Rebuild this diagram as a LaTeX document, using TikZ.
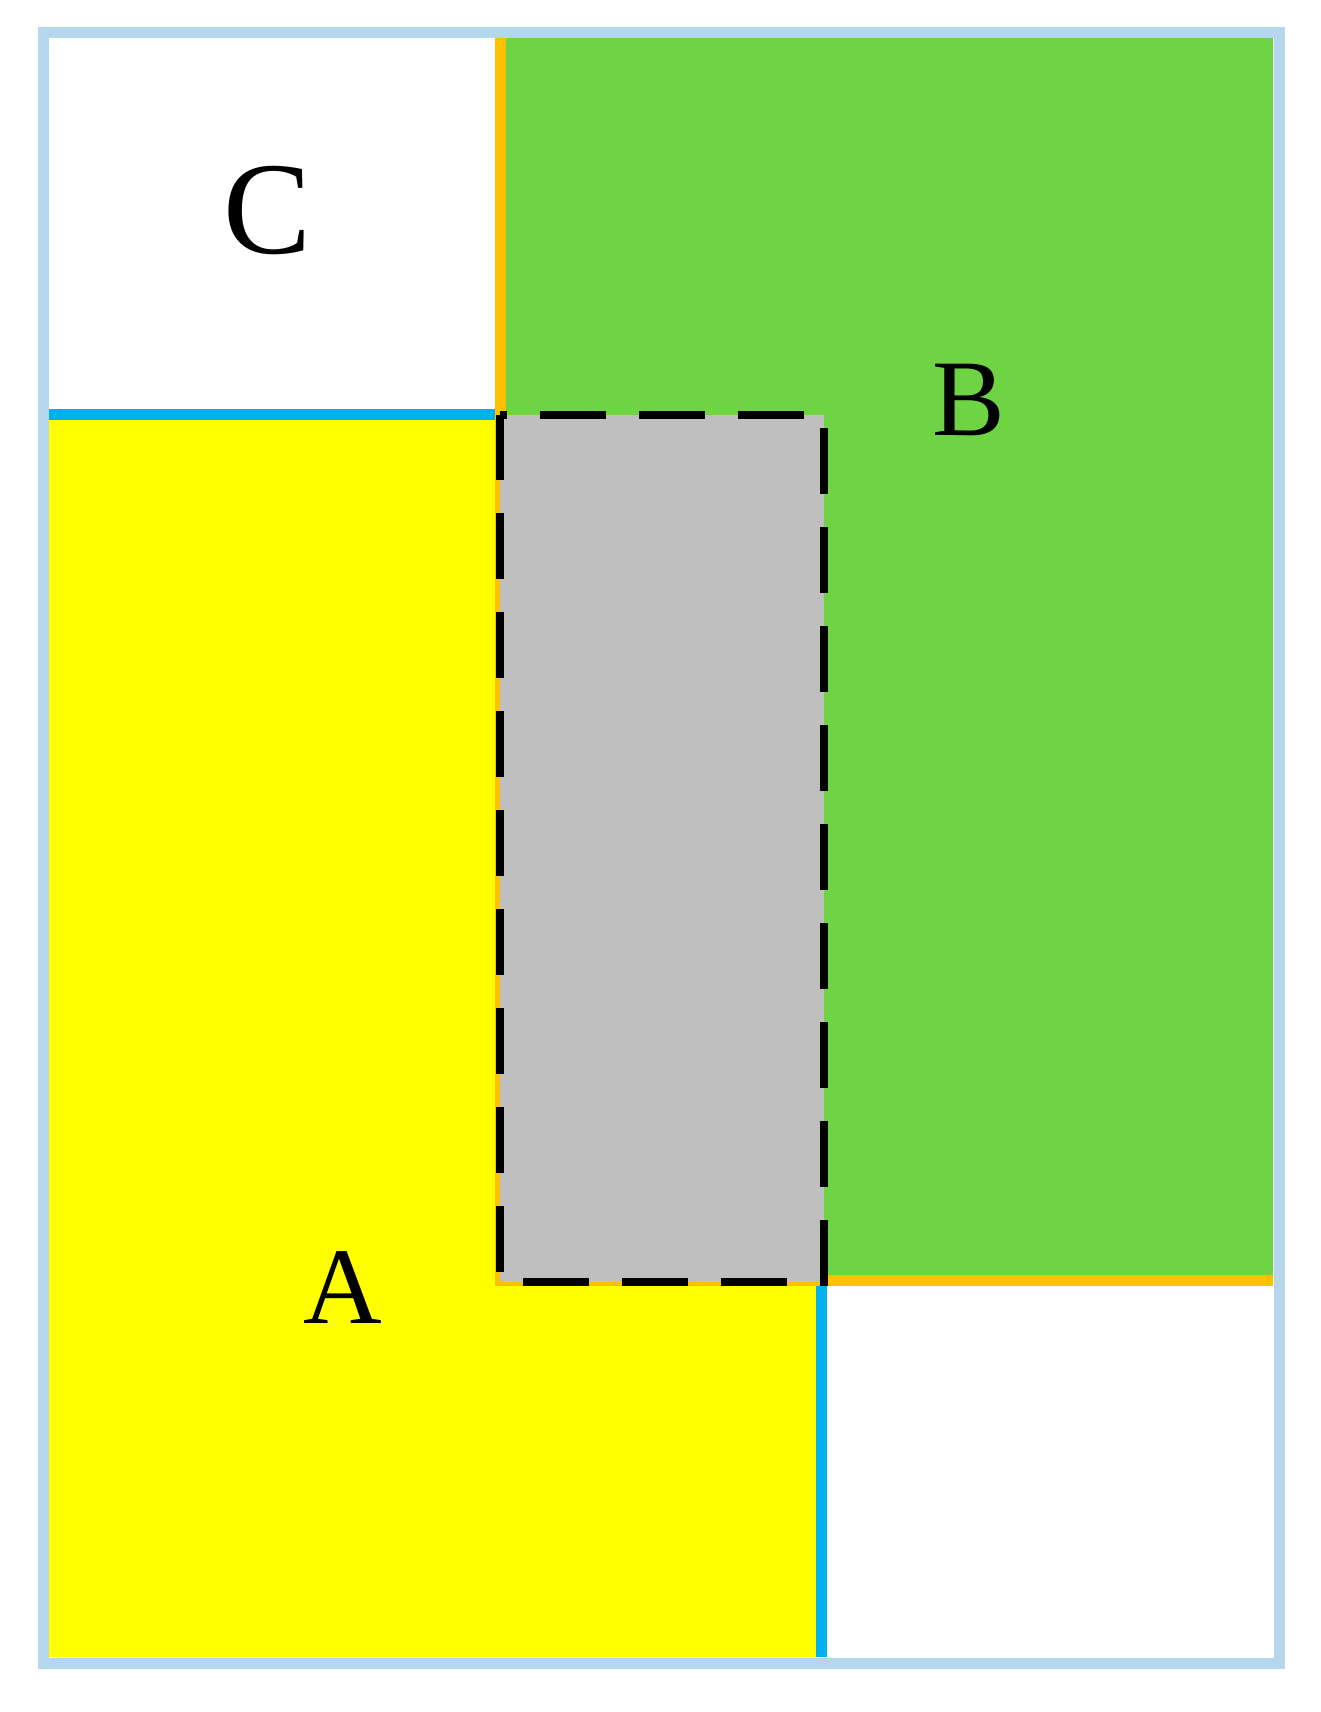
\documentclass[tikz,border=0pt]{standalone}
\usepackage{fontspec}
\setmainfont{Liberation Serif}
\definecolor{borde}{RGB}{180,215,238}
\definecolor{amarillo}{RGB}{255,255,0}
\definecolor{verde}{RGB}{111,212,67}
\definecolor{gris}{RGB}{191,191,191}
\definecolor{naranja}{RGB}{255,192,0}
\definecolor{azul}{RGB}{0,176,240}

\begin{document}
\begin{tikzpicture}[x=0.1mm, y=-0.1mm,
  letra/.style={inner sep=0pt, anchor=base, font=\fontsize{31}{31}\selectfont},
  linea/.style={line width=1.1mm}]
\useasboundingbox (0,0) rectangle (1320,1712);
% conjuntos A y B
\fill[amarillo] (49,414) rectangle (821,1657);
\fill[verde] (500,37) rectangle (1273,1280);
\draw[linea, azul] (49,414.5) -- (500,414.5);
\draw[linea, azul] (821.5,1282) -- (821.5,1657);
\draw[linea, naranja] (500.5,37) -- (500.5,1280) -- (1273,1280);
% interseccion
\fill[gris] (500,415) rectangle (824,1282);
\draw[line width=0.75mm, dash pattern=on 6.6mm off 3.3mm, dash phase=5.9mm]
  (500,415) -- (824,415) -- (824,1282) -- (500,1282) -- cycle;
% marco
\draw[linea, borde] (43.5,32) rectangle (1279,1663);
\node(C) [letra, font=\fontsize{37.5}{37.5}\selectfont] at (267,253) {C};
\node(B) [letra] at (969,435) {B};
\node(A) [letra] at (343,1323) {A};
\end{tikzpicture}
\end{document}
